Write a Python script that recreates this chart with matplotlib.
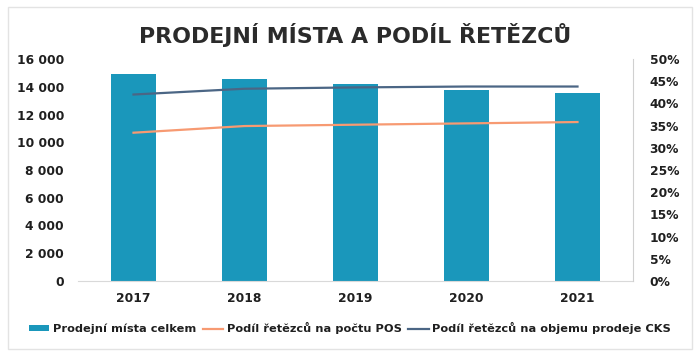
import numpy as np
import matplotlib.pyplot as plt
from matplotlib.ticker import FuncFormatter

# Data
years = ["2017", "2018", "2019", "2020", "2021"]
prodejni_mista = [14900, 14550, 14200, 13800, 13550]
podil_pos = [0.334, 0.349, 0.352, 0.355, 0.358]
podil_cks = [0.420, 0.433, 0.436, 0.438, 0.438]

bar_color = "#1a97bb"
orange = "#f79a72"
navy = "#4b6685"
text_color = "#1f1f1f"

plt.rcParams["font.family"] = ["DejaVu Sans"]

fig = plt.figure(figsize=(7, 3.56), dpi=100)
ax = fig.add_axes([78 / 700, 1 - 281 / 356, 555 / 700, 222 / 356])
ax2 = ax.twinx()

x = np.arange(len(years))
ax.bar(x, prodejni_mista, width=0.41, color=bar_color, zorder=2, label="Prodejní místa celkem")
ax2.plot(x, podil_pos, color=orange, lw=1.6, label="Podíl řetězců na počtu POS")
ax2.plot(x, podil_cks, color=navy, lw=1.6, label="Podíl řetězců na objemu prodeje CKS")

ax.set_xlim(-0.5, 4.5)
ax.set_ylim(0, 16000)
ax.set_yticks(np.arange(0, 16001, 2000))
ax.yaxis.set_major_formatter(FuncFormatter(lambda v, p: f"{int(v):,}".replace(",", " ")))
ax2.set_ylim(0, 0.5)
ax2.set_yticks(np.arange(0, 0.501, 0.05))
ax2.yaxis.set_major_formatter(FuncFormatter(lambda v, p: f"{round(v * 100)}%"))

ax.set_xticks(x)
ax.set_xticklabels(years)

for a in (ax, ax2):
    for s in a.spines.values():
        s.set_visible(False)
    a.tick_params(length=0, colors=text_color, labelsize=8.8)
    for lbl in a.get_yticklabels() + a.get_xticklabels():
        lbl.set_fontweight("bold")
ax2.spines["right"].set_visible(True)
ax2.spines["right"].set_color("#d0d0d0")
ax.spines["bottom"].set_visible(True)
ax.spines["bottom"].set_color("#d9d9d9")
ax.tick_params(axis="y", pad=10)
ax2.tick_params(axis="y", pad=12)
ax.tick_params(axis="x", pad=8)

fig.text(0.507, 0.902, "PRODEJNÍ MÍSTA A PODÍL ŘETĚZCŮ", ha="center", va="center",
         fontsize=15.9, fontweight="bold", color="#2b2b2b")

h1, l1 = ax.get_legend_handles_labels()
h2, l2 = ax2.get_legend_handles_labels()
leg = fig.legend(h1 + h2, l1 + l2, loc="center", bbox_to_anchor=(0.5, 0.078), ncol=3,
                 frameon=False, prop={"weight": "bold", "size": 8.2}, handlelength=1.8,
                 handleheight=0.5, handletextpad=0.3, columnspacing=0.6)
for t in leg.get_texts():
    t.set_color(text_color)

# light frame around the chart
fig.patches.append(plt.Rectangle((0.012, 0.02), 0.976, 0.96, transform=fig.transFigure,
                                 fill=False, edgecolor="#e3e3e3", lw=1))

plt.savefig("out.png", dpi=100)
